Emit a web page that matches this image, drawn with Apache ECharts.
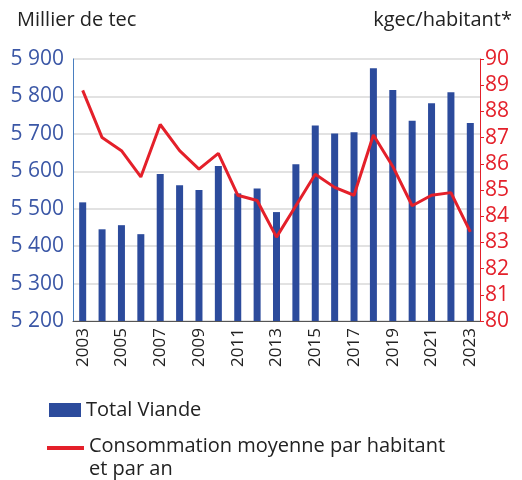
<!DOCTYPE html>
<html>
<head>
<meta charset="utf-8">
<script src="https://cdn.jsdelivr.net/npm/echarts@6/dist/echarts.min.js"></script>
<style>
  html, body { margin: 0; padding: 0; background: #fff; }
  #chart { width: 522px; height: 480px; }
</style>
</head>
<body>
<div id="chart"></div>
<script>
// années
let years = ['2003', '2004', '2005', '2006', '2007', '2008', '2009', '2010', '2011', '2012', '2013',
    '2014', '2015', '2016', '2017', '2018', '2019', '2020', '2021', '2022', '2023']
// Total Viande, millier de tec
let totalViande = [5517, 5445, 5456, 5432, 5593, 5563, 5550, 5614, 5541, 5554, 5491,
    5619, 5722, 5701, 5704, 5875, 5817, 5735, 5782, 5811, 5729]
// kgec/habitant/an
let consoHabitant = [88.8, 87.0, 86.5, 85.5, 87.5, 86.5, 85.8, 86.4, 84.8, 84.6, 83.2,
    84.4, 85.6, 85.1, 84.8, 87.1, 85.9, 84.4, 84.8, 84.9, 83.4]

let font = 'Open Sans'
let blue = '#2c4b9c'
let red = '#e4202a'
let nomBarre = 'Total Viande'
let nomLigne = 'Consommation moyenne par habitant\net par an'

var chart = echarts.init(document.getElementById('chart'))
chart.setOption({
    animation: false,
    textStyle: { fontFamily: font },
    title: [
        { text: 'Millier de tec', left: 12, top: 5, textStyle: { fontFamily: font, fontSize: 20, fontWeight: 'normal', color: '#222' } },
        { text: 'kgec/habitant*', right: 5, top: 5, textStyle: { fontFamily: font, fontSize: 20, fontWeight: 'normal', color: '#222' } }
    ],
    legend: [
        {
            left: 44, top: 395, itemWidth: 32, itemHeight: 14,
            textStyle: { fontFamily: font, fontSize: 20, color: '#222' },
            data: [{ name: nomBarre, icon: 'rect', itemStyle: { color: blue } }]
        },
        {
            // trait rouge aligné sur la première ligne du texte
            left: 42, top: 430, itemWidth: 37, itemHeight: 24,
            textStyle: { fontFamily: font, fontSize: 20, color: '#222', lineHeight: 23 },
            data: [{ name: nomLigne, icon: 'path://M0,0 L37,0 L37,4 L0,4 Z M0,24 L0.01,24 L0.01,24.01 Z', itemStyle: { color: red } }]
        }
    ],
    grid: { left: 73, right: 42, top: 59, bottom: 159 },
    xAxis: {
        type: 'category',
        data: years,
        axisLine: { lineStyle: { color: '#555' } },
        axisTick: { show: false },
        axisLabel: { rotate: 90, interval: 1, fontSize: 17, color: '#222', margin: 7 }
    },
    yAxis: [
        {
            type: 'value', min: 5200, max: 5900, interval: 100,
            axisLine: { show: true, lineStyle: { color: '#4a7fc0' } },
            axisTick: { show: false },
            splitLine: { lineStyle: { color: '#d9d9d9', width: 1.5 } },
            axisLabel: { fontSize: 21, color: '#3b57a6', margin: 9,
                formatter: v => String(v).replace(/(\d)(\d{3})$/, '$1 $2') }
        },
        {
            type: 'value', min: 80, max: 90, interval: 1,
            axisLine: { show: true, lineStyle: { color: red } },
            axisTick: { show: true, length: 4, lineStyle: { color: red } },
            splitLine: { show: false },
            axisLabel: { fontSize: 21, color: red, margin: 5 }
        }
    ],
    series: [
        {
            name: nomBarre, type: 'bar', data: totalViande, barWidth: 7,
            itemStyle: { color: blue }
        },
        {
            name: nomLigne, type: 'line', yAxisIndex: 1,
            data: consoHabitant, symbol: 'none',
            lineStyle: { color: red, width: 3 }, itemStyle: { color: red }
        }
    ]
})
</script>
</body>
</html>
